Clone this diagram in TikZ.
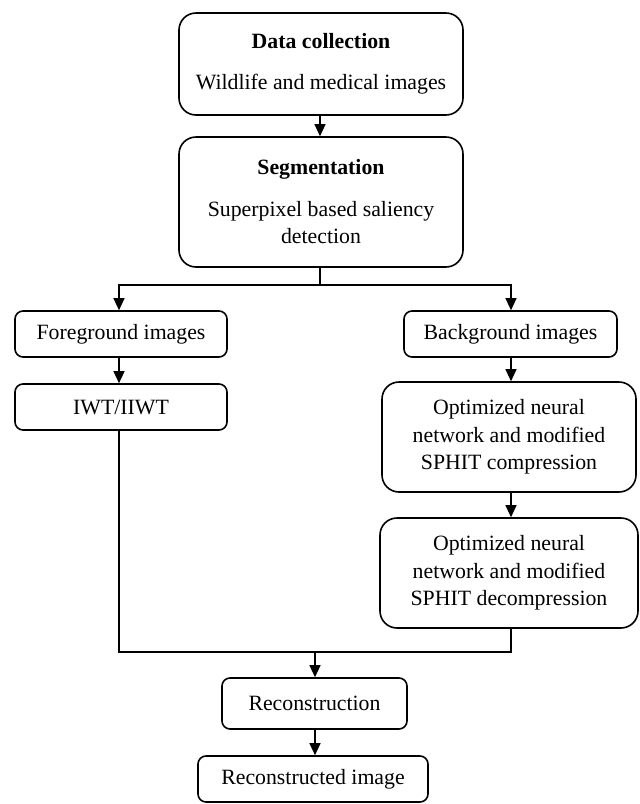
\documentclass[tikz,border=0pt]{standalone}
\usepackage{fontspec}
\setmainfont{Liberation Serif}
\usetikzlibrary{arrows.meta}
\begin{document}
\begin{tikzpicture}[x=1pt,y=-1pt,
  box/.style={draw, line width=1.6pt, align=center, inner sep=0pt,
    font=\fontsize{21.8}{27.5}\selectfont},
  bigr/.style={rounded corners=17pt},
  smallr/.style={rounded corners=8pt},
  conn/.style={line width=1.1pt},
  arr/.style={conn, -{Triangle[length=12pt,width=11pt]}}]
\useasboundingbox (0,0) rectangle (640,804);
\node[box,bigr,minimum width=284pt,minimum height=102pt] (dc) at (321,64)
  {\textbf{Data collection}\\[14pt] Wildlife and medical images};
\node[box,bigr,minimum width=284pt,minimum height=130pt] (seg) at (321,202)
  {\textbf{Segmentation}\\[14pt] Superpixel based saliency\\ detection};
\node[box,smallr,minimum width=212pt,minimum height=46pt] (fg) at (121,334) {Foreground images};
\node[box,smallr,minimum width=212pt,minimum height=46pt] (iwt) at (121,407) {IWT/IIWT};
\node[box,smallr,minimum width=213pt,minimum height=46pt] (bg) at (510.5,334) {Background images};
\node[box,bigr,minimum width=254pt,minimum height=110pt] (comp) at (509,437)
  {Optimized neural\\ network and modified\\ SPHIT compression};
\node[box,bigr,minimum width=258pt,minimum height=110pt] (decomp) at (509,573)
  {Optimized neural\\ network and modified\\ SPHIT decompression};
\node[box,smallr,minimum width=185pt,minimum height=51pt] (rec) at (314.5,703.5) {Reconstruction};
\node[box,smallr,minimum width=230pt,minimum height=46pt] (recimg) at (313,779) {Reconstructed image};
\coordinate (split) at (320,285);
\coordinate (join) at (315,652);
\draw[arr] (dc.south -| 320,0) -- (seg.north -| 320,0);
\draw[conn] (seg.south -| split) -- (split);
\draw[arr] (split) -- (119,285) -- (fg.north -| 119,0);
\draw[arr] (split) -- (511,285) -- (bg.north -| 511,0);
\draw[arr] (fg.south -| 119,0) -- (iwt.north -| 119,0);
\draw[arr] (bg.south -| 511,0) -- (comp.north -| 511,0);
\draw[arr] (comp.south -| 511,0) -- (decomp.north -| 511,0);
\draw[conn] (iwt.south -| 119,0) -- (119,652) -- (join);
\draw[conn] (decomp.south -| 511,0) -- (511,652) -- (join);
\draw[arr] (join) -- (rec.north -| join);
\draw[arr] (rec.south -| join) -- (recimg.north -| join);
\end{tikzpicture}
\end{document}
